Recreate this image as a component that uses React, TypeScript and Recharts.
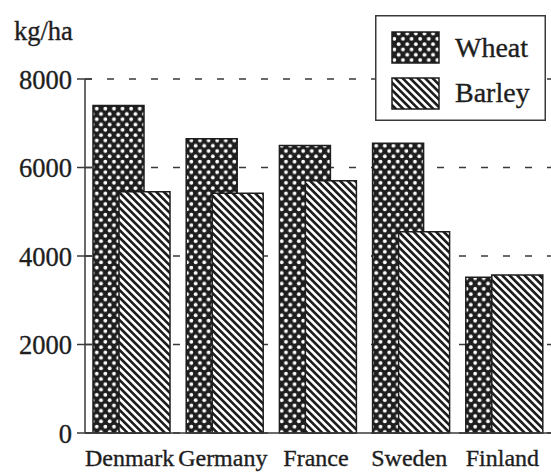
import React from 'react';
import { BarChart, Bar, XAxis, YAxis, CartesianGrid, Legend } from 'recharts';

const countries = ['Denmark', 'Germany', 'France', 'Sweden', 'Finland'];
const wheat = [7400, 6650, 6500, 6550, 3520];
const barley = [5450, 5420, 5700, 4550, 3570];
const yTicks = [0, 2000, 4000, 6000, 8000];
const unitLabel = 'kg/ha';
const seriesNames = ['Wheat', 'Barley'];

const data = countries.map((c, i) => ({ country: c, Wheat: wheat[i], Barley: barley[i] }));

const INK = '#1e1e1e';
const AXIS = '#3a3a3a';
const FONT = "'Liberation Serif', 'Times New Roman', serif";

function Patterns({ prefix }: { prefix: string }) {
  return (
    <defs>
      <pattern id={`${prefix}-Wheat`} patternUnits="userSpaceOnUse" width="8.6" height="10.6">
        <rect width="8.6" height="10.6" fill={INK} />
        <circle cx="2.15" cy="2.65" r="1.9" fill="#fff" />
        <circle cx="6.45" cy="7.95" r="1.9" fill="#fff" />
      </pattern>
      <pattern
        id={`${prefix}-Barley`}
        patternUnits="userSpaceOnUse"
        width="5.3"
        height="10"
        patternTransform="rotate(-45)"
      >
        <rect width="5.3" height="10" fill="#fff" />
        <rect width="2.65" height="10" fill={INK} />
      </pattern>
    </defs>
  );
}

const textProps = { fontFamily: FONT, fill: INK, stroke: INK, strokeWidth: 0.35 };

const YTick = (props: any) => {
  const { x, y, payload } = props;
  return (
    <g>
      <line x1={x - 8} x2={x + 7} y1={y} y2={y} stroke={AXIS} strokeWidth={1.5} />
      <text x={x - 13} y={y} dy="0.36em" textAnchor="end" fontSize={26.5} {...textProps}>
        {payload.value}
      </text>
    </g>
  );
};

const XTick = (props: any) => {
  const { x, y, payload } = props;
  return (
    <text x={x - 2} y={y + 33} textAnchor="middle" fontSize={24} {...textProps}>
      {payload.value}
    </text>
  );
};

const LegendBox = (props: any) => {
  const payload = props.payload || [];
  const ordered = seriesNames
    .map((n) => payload.find((e: any) => e.dataKey === n))
    .filter(Boolean);
  return (
    <svg width={171} height={106} style={{ display: 'block' }}>
      <Patterns prefix="lg" />
      <rect x={0.75} y={0.75} width={169.5} height={104.5} fill="#fff" stroke={AXIS} strokeWidth={1.5} />
      {ordered.map((entry: any, i: number) => (
        <g key={entry.value}>
          <rect
            x={17}
            y={17 + i * 46}
            width={47}
            height={31}
            fill={`url(#lg-${entry.dataKey})`}
            stroke={INK}
            strokeWidth={1.5}
          />
          <text x={80} y={42 + i * 45} fontSize={28} {...textProps}>
            {entry.value}
          </text>
        </g>
      ))}
    </svg>
  );
};

export default function App() {
  return (
    <div style={{ position: 'absolute', left: 0, top: 0, width: 551, height: 473, background: '#fff' }}>
      <BarChart
        width={551}
        height={473}
        data={data}
        margin={{ top: 79, right: 0, bottom: 0, left: 0 }}
        barGap={-25}
      >
        <Patterns prefix="c" />
        <CartesianGrid horizontal vertical={false} stroke={AXIS} strokeWidth={1.5} strokeDasharray="7 15" />
        <XAxis
          dataKey="country"
          height={40}
          tickLine={false}
          tickSize={0}
          tickMargin={0}
          axisLine={{ stroke: AXIS, strokeWidth: 1.5 }}
          tick={<XTick />}
          interval={0}
        />
        <YAxis
          width={85}
          domain={[0, 8000]}
          ticks={yTicks}
          tickLine={false}
          tickSize={0}
          tickMargin={0}
          axisLine={{ stroke: AXIS, strokeWidth: 1.5 }}
          tick={<YTick />}
          label={{
            value: unitLabel,
            content: () => (
              <text x={14} y={40} fontSize={26.5} {...textProps}>
                {unitLabel}
              </text>
            ),
          }}
        />
        <Legend
          layout="horizontal"
          verticalAlign="middle"
          align="center"
          wrapperStyle={{ left: 375, top: 15, width: 171, height: 106 }}
          content={(p: any) => <LegendBox payload={p.payload} />}
        />
        {seriesNames.map((s) => (
          <Bar
            key={s}
            dataKey={s}
            name={s}
            fill={`url(#c-${s})`}
            stroke={INK}
            strokeWidth={1.5}
            barSize={51}
            isAnimationActive={false}
          />
        ))}
      </BarChart>
    </div>
  );
}
